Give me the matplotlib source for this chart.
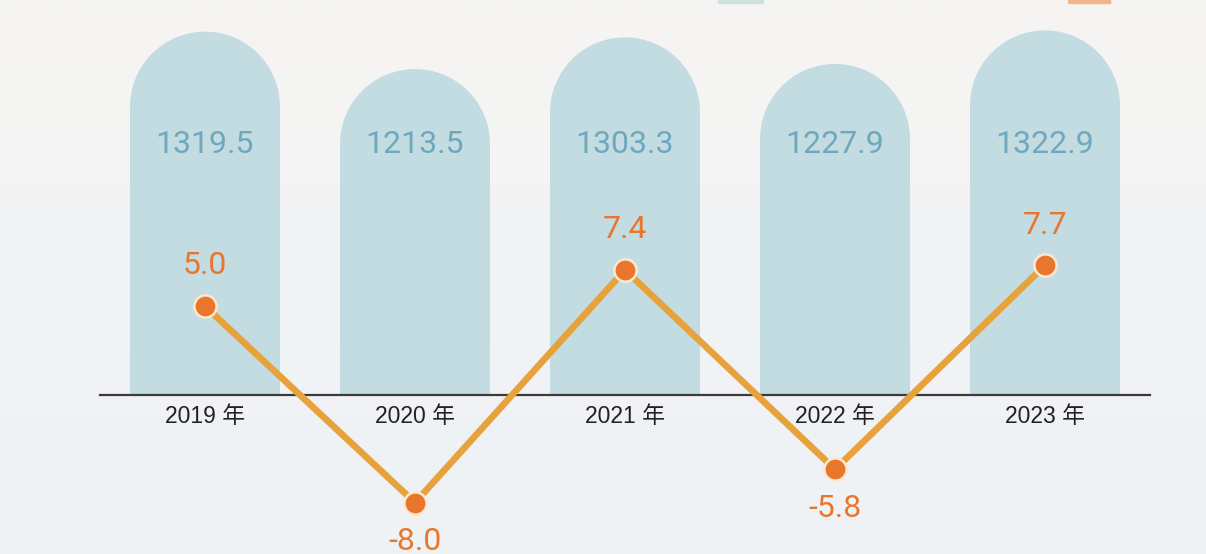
import numpy as np
import matplotlib.pyplot as plt
from matplotlib.patches import Ellipse, Rectangle
from matplotlib.colors import to_rgb

# 数据
years = ['2019 年', '2020 年', '2021 年', '2022 年', '2023 年']
totals = [1319.5, 1213.5, 1303.3, 1227.9, 1322.9]
growth = [5.0, -8.0, 7.4, -5.8, 7.7]

BAR_BASE = 290        # value where the bars start (baseline)
BAR_YLIM = (-160, 1409)
LINE_YLIM = (-11.4, 25.26)

W, H = 1206, 554
fig = plt.figure(figsize=(W / 100, H / 100), dpi=100)

# fondo con degradado suave
bg = fig.add_axes([0, 0, 1, 1], zorder=-5)
top_c = np.array(to_rgb('#f6f5f3'))
bot_c = np.array(to_rgb('#eef2f6'))
t = np.linspace(0, 1, 256)[:, None]
grad = top_c[None, None, :] * (1 - t[..., None]) + bot_c[None, None, :] * t[..., None]
bg.imshow(np.repeat(grad, 2, axis=1), aspect='auto', extent=[0, 1, 0, 1])
bg.set_axis_off()

# restos de la leyenda cortada arriba
fig.patches.append(Rectangle((718 / W, 1 - 3 / H), 45 / W, 3 / H, transform=fig.transFigure,
                             color='#cfe3dc', zorder=2))
fig.patches.append(Rectangle((1068 / W, 1 - 3 / H), 42 / W, 3 / H, transform=fig.transFigure,
                             color='#f2b48a', zorder=2))

pos = [100 / W, 0, 1050 / W, 1]
ax = fig.add_axes(pos)
ax.set_facecolor('none')
ax.set_xlim(-0.5, 4.5)
ax.set_ylim(*BAR_YLIM)

x = np.arange(len(years))
bw = 0.714
bar_color = '#c2dce2'

# relación de escala para que la parte superior sea un semicírculo
x_px = W * pos[2] / 5.0
y_px = H * pos[3] / (BAR_YLIM[1] - BAR_YLIM[0])
ry = (bw / 2) * x_px / y_px

heights = [v - BAR_BASE - ry for v in totals]
ax.bar(x, heights, width=bw, bottom=BAR_BASE, color=bar_color, linewidth=0, zorder=2)
for xi, v in zip(x, totals):
    ax.add_patch(Ellipse((xi, v - ry), bw, 2 * ry, color=bar_color, lw=0, zorder=2))
    ax.text(xi, 0.74, f'{v:.1f}', transform=ax.get_xaxis_transform(), ha='center', va='center',
            fontsize=23, color='#6fa8bd', family='Roboto', zorder=3)

# eje base
for s in ['left', 'right', 'top']:
    ax.spines[s].set_visible(False)
ax.spines['bottom'].set_position(('data', BAR_BASE))
ax.spines['bottom'].set_color('#3a3a3a')
ax.spines['bottom'].set_linewidth(1.6)
ax.spines['bottom'].set_zorder(4)
ax.set_yticks([])
ax.set_xticks(x)
ax.set_xticklabels(years, fontsize=16.5, color='#222222',
                   family=['Liberation Sans', 'Noto Sans CJK SC'])
ax.tick_params(axis='x', length=0, pad=7)

# línea de crecimiento
ax2 = ax.twinx()
ax2.set_ylim(*LINE_YLIM)
ax2.set_axis_off()
ax2.plot(x, growth, color='#e8a23c', lw=4.8, zorder=3, solid_capstyle='round')
ax2.plot(x, growth, 'o', ms=16, mfc='#e8762c', mec='#fbe8cf', mew=1.8, zorder=4)
for xi, g in zip(x, growth):
    off = 29 if g > 0 else -28
    ax2.annotate(f'{g:.1f}', (xi, g), xytext=(0, off), textcoords='offset points',
                 ha='center', va='center', fontsize=23, color='#e8762c', family='Roboto')

fig.savefig('out.png', dpi=100)
